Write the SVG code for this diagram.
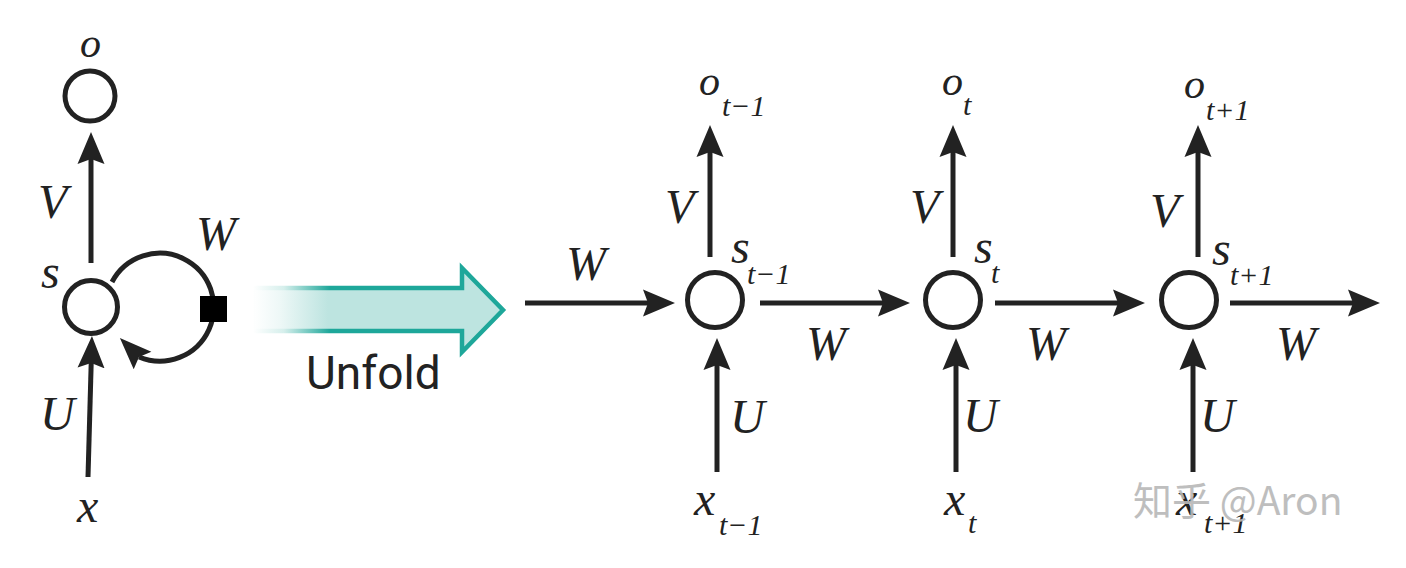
<svg xmlns="http://www.w3.org/2000/svg" width="1406" height="568" viewBox="0 0 1406 568">
<style>
.ln{stroke:#222;stroke-width:5;fill:none}
.nd{fill:#fff;stroke:#222;stroke-width:5}
</style>
<defs>
<marker id="ah" markerUnits="userSpaceOnUse" markerWidth="34" markerHeight="30" viewBox="0 -15 34 30" refX="5" refY="0" orient="auto">
<path d="M32,0 L0,-13.5 L5,0 L0,13.5 Z" fill="#222"/>
</marker>
<marker id="ahl" markerUnits="userSpaceOnUse" markerWidth="34" markerHeight="30" viewBox="0 -15 34 30" refX="5" refY="0" orient="225">
<path d="M32,0 L0,-12.5 L5,0 L0,12.5 Z" fill="#222"/>
</marker>
<linearGradient id="ufFill" gradientUnits="userSpaceOnUse" x1="253" y1="0" x2="328" y2="0">
<stop offset="0" stop-color="#ffffff"/>
<stop offset="0.35" stop-color="#eef8f7"/>
<stop offset="1" stop-color="#bde4e0"/>
</linearGradient>
<linearGradient id="ufStroke" gradientUnits="userSpaceOnUse" x1="253" y1="0" x2="330" y2="0">
<stop offset="0" stop-color="#ffffff"/>
<stop offset="0.4" stop-color="#d6efec"/>
<stop offset="1" stop-color="#1ea79a"/>
</linearGradient>
</defs>

<g id="connectors">
<line class="ln" x1="91" y1="263" x2="91" y2="159" marker-end="url(#ah)"/>
<line class="ln" x1="88" y1="477" x2="91.2" y2="363" marker-end="url(#ah)"/>
<path class="ln" d="M112,282 A54,54 0 1 1 139,357" marker-end="url(#ahl)"/>
<line class="ln" x1="525" y1="303" x2="648" y2="303" marker-end="url(#ah)"/>
<line class="ln" x1="760" y1="303" x2="883" y2="303" marker-end="url(#ah)"/>
<line class="ln" x1="995" y1="303" x2="1118" y2="303" marker-end="url(#ah)"/>
<line class="ln" x1="1230" y1="303" x2="1353" y2="303" marker-end="url(#ah)"/>
<line class="ln" x1="710" y1="257" x2="710" y2="152" marker-end="url(#ah)"/>
<line class="ln" x1="953" y1="257" x2="953" y2="152" marker-end="url(#ah)"/>
<line class="ln" x1="1198" y1="257" x2="1198" y2="152" marker-end="url(#ah)"/>
<line class="ln" x1="717" y1="472" x2="717" y2="365" marker-end="url(#ah)"/>
<line class="ln" x1="956" y1="472" x2="956" y2="365" marker-end="url(#ah)"/>
<line class="ln" x1="1193" y1="472" x2="1193" y2="365" marker-end="url(#ah)"/>
<text font-family="Liberation Serif" font-style="italic" font-size="48" fill="#222" x="38" y="218"><tspan font-family="Liberation Serif" font-style="italic">V</tspan></text>
<text font-family="Liberation Serif" font-style="italic" font-size="48" fill="#222" x="40" y="430"><tspan font-family="Liberation Serif" font-style="italic">U</tspan></text>
<text font-family="Liberation Serif" font-style="italic" font-size="48" fill="#222" x="196" y="250"><tspan font-family="Liberation Serif" font-style="italic">W</tspan></text>
<text font-family="Liberation Serif" font-style="italic" font-size="48" fill="#222" x="566" y="280"><tspan font-family="Liberation Serif" font-style="italic">W</tspan></text>
<text font-family="Liberation Serif" font-style="italic" font-size="48" fill="#222" x="806" y="360"><tspan font-family="Liberation Serif" font-style="italic">W</tspan></text>
<text font-family="Liberation Serif" font-style="italic" font-size="48" fill="#222" x="1026" y="360"><tspan font-family="Liberation Serif" font-style="italic">W</tspan></text>
<text font-family="Liberation Serif" font-style="italic" font-size="48" fill="#222" x="1276" y="360"><tspan font-family="Liberation Serif" font-style="italic">W</tspan></text>
<text font-family="Liberation Serif" font-style="italic" font-size="48" fill="#222" x="665" y="223"><tspan font-family="Liberation Serif" font-style="italic">V</tspan></text>
<text font-family="Liberation Serif" font-style="italic" font-size="48" fill="#222" x="910" y="223"><tspan font-family="Liberation Serif" font-style="italic">V</tspan></text>
<text font-family="Liberation Serif" font-style="italic" font-size="48" fill="#222" x="1150" y="227"><tspan font-family="Liberation Serif" font-style="italic">V</tspan></text>
<text font-family="Liberation Serif" font-style="italic" font-size="48" fill="#222" x="730" y="433"><tspan font-family="Liberation Serif" font-style="italic">U</tspan></text>
<text font-family="Liberation Serif" font-style="italic" font-size="48" fill="#222" x="963" y="432"><tspan font-family="Liberation Serif" font-style="italic">U</tspan></text>
<text font-family="Liberation Serif" font-style="italic" font-size="48" fill="#222" x="1200" y="432"><tspan font-family="Liberation Serif" font-style="italic">U</tspan></text>
</g>

<g id="delay">
<rect x="200" y="296" width="27" height="26" fill="#000"/>
</g>

<g id="node-o">
<circle class="nd" cx="90" cy="96" r="25"/>
<text font-family="Liberation Serif" font-style="italic" font-size="42" fill="#222" x="80" y="57"><tspan font-family="Liberation Serif" font-style="italic">o</tspan></text>
</g>
<g id="node-s">
<circle class="nd" cx="91" cy="307" r="26.5"/>
<text font-family="Liberation Serif" font-style="italic" font-size="48" fill="#222" x="41" y="288"><tspan font-family="Liberation Serif" font-style="italic">s</tspan></text>
</g>
<g id="node-x">
<text font-family="Liberation Serif" font-style="italic" font-size="48" fill="#222" x="77" y="522"><tspan font-family="Liberation Serif" font-style="italic">x</tspan></text>
</g>

<g id="node-s-t-1">
<circle class="nd" cx="715" cy="300" r="27.5"/>
<text font-family="Liberation Serif" font-style="italic" font-size="48" fill="#222" x="731" y="263"><tspan font-family="Liberation Serif" font-style="italic">s</tspan></text>
<text font-family="Liberation Serif" font-style="italic" font-size="30" fill="#222" x="747" y="284"><tspan font-family="Liberation Serif" font-style="italic">t−1</tspan></text>
</g>
<g id="node-o-t-1">
<text font-family="Liberation Serif" font-style="italic" font-size="42" fill="#222" x="699" y="95"><tspan font-family="Liberation Serif" font-style="italic">o</tspan></text>
<text font-family="Liberation Serif" font-style="italic" font-size="30" fill="#222" x="722" y="116"><tspan font-family="Liberation Serif" font-style="italic">t−1</tspan></text>
</g>
<g id="node-x-t-1">
<text font-family="Liberation Serif" font-style="italic" font-size="48" fill="#222" x="694" y="515"><tspan font-family="Liberation Serif" font-style="italic">x</tspan></text>
<text font-family="Liberation Serif" font-style="italic" font-size="30" fill="#222" x="719" y="535"><tspan font-family="Liberation Serif" font-style="italic">t−1</tspan></text>
</g>

<g id="node-s-t">
<circle class="nd" cx="953" cy="300" r="27.5"/>
<text font-family="Liberation Serif" font-style="italic" font-size="48" fill="#222" x="974" y="263"><tspan font-family="Liberation Serif" font-style="italic">s</tspan></text>
<text font-family="Liberation Serif" font-style="italic" font-size="30" fill="#222" x="991" y="283"><tspan font-family="Liberation Serif" font-style="italic">t</tspan></text>
</g>
<g id="node-o-t">
<text font-family="Liberation Serif" font-style="italic" font-size="42" fill="#222" x="942" y="95"><tspan font-family="Liberation Serif" font-style="italic">o</tspan></text>
<text font-family="Liberation Serif" font-style="italic" font-size="30" fill="#222" x="963" y="115"><tspan font-family="Liberation Serif" font-style="italic">t</tspan></text>
</g>
<g id="node-x-t">
<text font-family="Liberation Serif" font-style="italic" font-size="48" fill="#222" x="944" y="515"><tspan font-family="Liberation Serif" font-style="italic">x</tspan></text>
<text font-family="Liberation Serif" font-style="italic" font-size="30" fill="#222" x="968" y="533"><tspan font-family="Liberation Serif" font-style="italic">t</tspan></text>
</g>

<g id="node-s-t1">
<circle class="nd" cx="1189" cy="300" r="27.5"/>
<text font-family="Liberation Serif" font-style="italic" font-size="48" fill="#222" x="1212" y="265"><tspan font-family="Liberation Serif" font-style="italic">s</tspan></text>
<text font-family="Liberation Serif" font-style="italic" font-size="30" fill="#222" x="1230" y="285"><tspan font-family="Liberation Serif" font-style="italic">t+1</tspan></text>
</g>
<g id="node-o-t1">
<text font-family="Liberation Serif" font-style="italic" font-size="42" fill="#222" x="1184" y="98"><tspan font-family="Liberation Serif" font-style="italic">o</tspan></text>
<text font-family="Liberation Serif" font-style="italic" font-size="30" fill="#222" x="1206" y="120"><tspan font-family="Liberation Serif" font-style="italic">t+1</tspan></text>
</g>
<g id="node-x-t1">
<text font-family="Liberation Serif" font-style="italic" font-size="48" fill="#222" x="1176" y="515"><tspan font-family="Liberation Serif" font-style="italic">x</tspan></text>
<text font-family="Liberation Serif" font-style="italic" font-size="30" fill="#222" x="1204" y="533"><tspan font-family="Liberation Serif" font-style="italic">t+1</tspan></text>
</g>

<g id="unfold">
<polygon points="253,288 462,288 462,268 503,310 462,352 462,331 253,331" fill="url(#ufFill)" stroke="url(#ufStroke)" stroke-width="4.5"/>
<text font-family="Roboto" font-size="46" fill="#222" x="306" y="389">Unfold</text>
</g>

<g id="watermark">
<text font-family="Noto Sans CJK SC" font-size="39" fill="#b8b8b8" opacity="0.9" x="1133" y="515">知乎 @Aron</text>
</g>
</svg>
